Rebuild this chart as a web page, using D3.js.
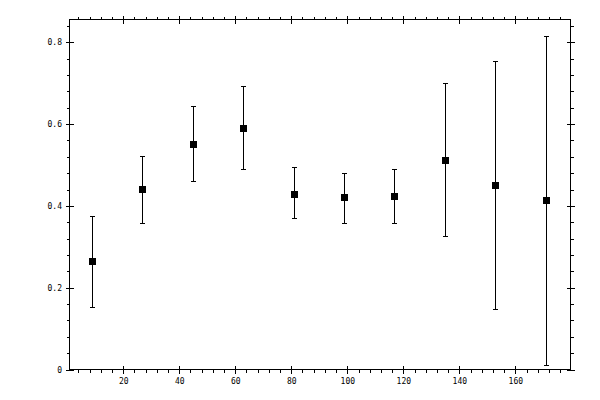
<!DOCTYPE html>
<html>
<head>
<meta charset="utf-8">
<script src="https://cdn.jsdelivr.net/npm/d3@7"></script>
<style>
	body { margin: 0; background: #fff; }
	svg { display: block; }
	.axis text { font-family: "DejaVu Sans Mono", monospace; font-size: 8px; fill: #000; }
	.axis path, .axis line { stroke: #000; shape-rendering: crispEdges; }
</style>
</head>
<body>
<svg id="chart" width="600" height="400"></svg>
<script>
// bin centres and measured values
var xValues = [9, 27, 45, 63, 81, 99, 117, 135, 153, 171];
var yValues = [0.263, 0.439, 0.551, 0.590, 0.429, 0.420, 0.422, 0.512, 0.449, 0.412];
var yLow    = [0.151, 0.358, 0.459, 0.490, 0.368, 0.356, 0.356, 0.324, 0.146, 0.011];
var yHigh   = [0.373, 0.521, 0.644, 0.693, 0.493, 0.480, 0.488, 0.700, 0.754, 0.813];

var xMajorTicks = [20, 40, 60, 80, 100, 120, 140, 160];
var yMajorTicks = [0, 0.2, 0.4, 0.6, 0.8];
var yTickLabels = ["0", "0.2", "0.4", "0.6", "0.8"];

var plotLeft = 69.5, plotRight = 570.5, plotTop = 19.5, plotBottom = 369.5;
var markerSize = 7;
var capWidth = 5;

var svg = d3.select("#chart");

var x = d3.scaleLinear().domain([0.8, 179.7]).range([plotLeft, plotRight]);
var y = d3.scaleLinear().domain([0, 0.8557]).range([plotBottom, plotTop]);

var xMinor = d3.range(4, 180, 4);
var yMinor = d3.range(0, 22).map(function (i) { return i * 0.04; });

function addAxis(axis, tx, ty) {
	var g = svg.append("g")
		.attr("class", "axis")
		.attr("transform", "translate(" + tx + "," + ty + ")")
		.call(axis);
	g.select(".domain").remove();
	return g;
}

// minor ticks, outside only
addAxis(d3.axisBottom(x).tickValues(xMinor).tickSize(3).tickFormat(""), 0, plotBottom);
addAxis(d3.axisTop(x).tickValues(xMinor).tickSize(3).tickFormat(""), 0, plotTop);
addAxis(d3.axisLeft(y).tickValues(yMinor).tickSize(3).tickFormat(""), plotLeft, 0);
addAxis(d3.axisRight(y).tickValues(yMinor).tickSize(3).tickFormat(""), plotRight, 0);

// major ticks, both sides; labels on bottom and left
addAxis(d3.axisBottom(x).tickValues(xMajorTicks).tickSize(4).tickPadding(5).tickFormat(d3.format("d")), 0, plotBottom);
addAxis(d3.axisTop(x).tickValues(xMajorTicks).tickSize(4).tickFormat(""), 0, plotBottom);
addAxis(d3.axisTop(x).tickValues(xMajorTicks).tickSize(4).tickFormat(""), 0, plotTop);
addAxis(d3.axisBottom(x).tickValues(xMajorTicks).tickSize(4).tickFormat(""), 0, plotTop);

addAxis(d3.axisLeft(y).tickValues(yMajorTicks).tickSize(4).tickPadding(3.5)
	.tickFormat(function (d, i) { return yTickLabels[i]; }), plotLeft, 0);
addAxis(d3.axisRight(y).tickValues(yMajorTicks).tickSize(4).tickFormat(""), plotLeft, 0);
addAxis(d3.axisRight(y).tickValues(yMajorTicks).tickSize(4).tickFormat(""), plotRight, 0);
addAxis(d3.axisLeft(y).tickValues(yMajorTicks).tickSize(4).tickFormat(""), plotRight, 0);

// frame
svg.append("rect")
	.attr("x", plotLeft)
	.attr("y", plotTop)
	.attr("width", plotRight - plotLeft)
	.attr("height", plotBottom - plotTop)
	.attr("fill", "none")
	.attr("stroke", "#000")
	.attr("shape-rendering", "crispEdges");

var pts = xValues.map(function (d, i) {
	return { x: d, y: yValues[i], lo: yLow[i], hi: yHigh[i] };
});

var bars = svg.append("g")
	.attr("stroke", "#000")
	.attr("stroke-width", 1)
	.attr("shape-rendering", "crispEdges");

bars.selectAll("line.err").data(pts).enter().append("line")
	.attr("class", "err")
	.attr("x1", function (d) { return x(d.x); })
	.attr("x2", function (d) { return x(d.x); })
	.attr("y1", function (d) { return y(d.lo); })
	.attr("y2", function (d) { return y(d.hi); });

bars.selectAll("line.capHi").data(pts).enter().append("line")
	.attr("class", "capHi")
	.attr("x1", function (d) { return x(d.x) - capWidth / 2; })
	.attr("x2", function (d) { return x(d.x) + capWidth / 2; })
	.attr("y1", function (d) { return y(d.hi); })
	.attr("y2", function (d) { return y(d.hi); });

bars.selectAll("line.capLo").data(pts).enter().append("line")
	.attr("class", "capLo")
	.attr("x1", function (d) { return x(d.x) - capWidth / 2; })
	.attr("x2", function (d) { return x(d.x) + capWidth / 2; })
	.attr("y1", function (d) { return y(d.lo); })
	.attr("y2", function (d) { return y(d.lo); });

svg.append("g").selectAll("rect").data(pts).enter().append("rect")
	.attr("x", function (d) { return x(d.x) - markerSize / 2; })
	.attr("y", function (d) { return y(d.y) - markerSize / 2; })
	.attr("width", markerSize)
	.attr("height", markerSize)
	.attr("fill", "#000")
	.attr("shape-rendering", "crispEdges");
</script>
</body>
</html>
